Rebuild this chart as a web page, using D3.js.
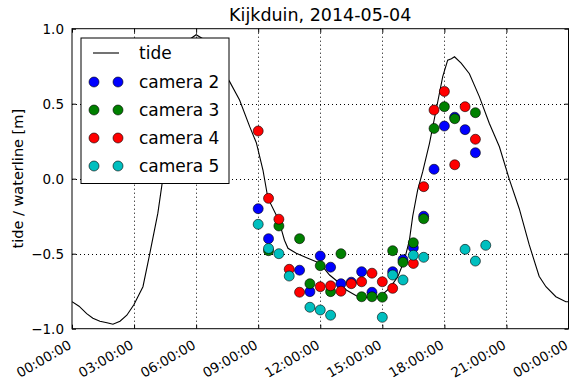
<!DOCTYPE html>
<html>
<head>
<meta charset="utf-8">
<script src="https://cdnjs.cloudflare.com/ajax/libs/d3/7.8.5/d3.min.js"></script>
<style>
body { margin: 0; background: #fff; }
svg { display: block; font-family: "DejaVu Sans", sans-serif; }
</style>
</head>
<body>
<div id="chart"></div>
<script>
// tide gauge, hours since midnight and level [m]
var tideHour = [0, 0.34, 0.71, 1.01, 1.35, 1.69, 1.98, 2.32, 2.65, 2.99, 3.43, 3.76, 4.15, 4.39, 4.6, 4.85,
  5.1, 5.45, 5.7, 6.0, 6.3, 6.65, 7.14, 7.62, 8.1, 8.59, 8.91, 9.23, 9.47, 9.99, 10.27, 10.44, 10.84,
  11.4, 11.81, 12.05, 12.45, 12.85, 13.26, 13.74, 14.22, 14.71, 15.02, 15.35, 15.75, 16.07, 16.31,
  16.47, 16.71, 16.95, 17.28, 17.6, 17.92, 18.16, 18.34, 18.49, 18.81, 19.21, 19.69, 20.17, 20.66,
  21.14, 21.62, 22.1, 22.58, 22.91, 23.39, 23.87, 24];
var tideLevel = [-0.82, -0.85, -0.90, -0.93, -0.95, -0.96, -0.97, -0.95, -0.91, -0.84, -0.72, -0.50, -0.23, 0.0, 0.22, 0.47,
  0.68, 0.85, 0.93, 0.96, 0.935, 0.86, 0.75, 0.647, 0.525, 0.347, 0.24, 0.058, -0.13, -0.275, -0.41, -0.464, -0.497,
  -0.53, -0.553, -0.575, -0.642, -0.687, -0.742, -0.78, -0.79, -0.79, -0.77, -0.73, -0.653, -0.542, -0.409,
  -0.25, -0.075, 0.045, 0.236, 0.458, 0.68, 0.79, 0.80, 0.813, 0.77, 0.70, 0.547, 0.37, 0.213,
  -0.005, -0.20, -0.44, -0.65, -0.72, -0.787, -0.82, -0.82];

// waterline per camera
var cam2Hour  = [9, 9.5, 11, 11.5, 12, 12.5, 13, 13.5, 14, 14.5, 15.5, 16, 16.5, 17, 17.5, 18, 18.5, 19, 19.5];
var cam2Level = [-0.20, -0.40, -0.61, -0.753, -0.515, -0.59, -0.70, -0.69, -0.62, -0.757, -0.62, -0.54, -0.46, -0.25, 0.063, 0.351, 0.41, 0.327, 0.173];
var cam3Hour  = [9.5, 10, 11, 11.5, 12, 12.5, 13, 14, 14.5, 15, 15.5, 16, 16.5, 17, 17.5, 18, 18.5, 19.5];
var cam3Level = [-0.48, -0.315, -0.40, -0.70, -0.58, -0.753, -0.50, -0.787, -0.787, -0.79, -0.48, -0.557, -0.427, -0.267, 0.335, 0.48, 0.40, 0.44];
var cam4Hour  = [9, 9.5, 10, 10.5, 11, 12, 12.5, 13, 13.5, 14, 14.5, 15, 15.5, 16.5, 17, 17.5, 18, 18.5, 19, 19.5];
var cam4Level = [0.318, -0.131, -0.27, -0.604, -0.757, -0.72, -0.714, -0.75, -0.70, -0.687, -0.63, -0.687, -0.731, -0.565, -0.053, 0.458, 0.582, 0.093, 0.48, 0.263];
var cam5Hour  = [9, 9.5, 10, 10.5, 11.5, 12, 12.5, 15, 15.5, 16, 16.5, 17, 19, 19.5, 20];
var cam5Level = [-0.304, -0.465, -0.50, -0.649, -0.857, -0.875, -0.91, -0.924, -0.642, -0.675, -0.51, -0.524, -0.471, -0.549, -0.444];

var seriesNames  = ["camera 2", "camera 3", "camera 4", "camera 5"];
var seriesColors = ["#0000ff", "#008000", "#ff0000", "#00bfbf"];
var yTicks = [-1, -0.5, 0, 0.5, 1];

var width = 569, height = 381,
    margin = {top: 28.7, right: 0.5, bottom: 52.3, left: 72};

var day = new Date(2014, 4, 4);
function toDate(h) { return new Date(day.getTime() + h * 3600e3); }

var x = d3.scaleTime().domain([day, toDate(24)]).range([margin.left, width - margin.right]);
var y = d3.scaleLinear().domain([-1, 1]).range([height - margin.bottom, margin.top]);
var xTicks = d3.timeHour.every(3).range(day, toDate(24.01));

var svg = d3.select("#chart").append("svg")
    .attr("width", width)
    .attr("height", height);

svg.append("defs").append("clipPath").attr("id", "plotclip")
  .append("rect")
    .attr("x", margin.left).attr("y", margin.top)
    .attr("width", width - margin.right - margin.left)
    .attr("height", height - margin.bottom - margin.top);

// dotted grid
var grid = svg.append("g").attr("stroke", "#000").attr("stroke-width", 1).attr("stroke-dasharray", "1,3");
grid.selectAll(".gx").data(xTicks.slice(1, -1)).enter().append("line")
    .attr("x1", function(d) { return Math.round(x(d)) + 0.5; })
    .attr("x2", function(d) { return Math.round(x(d)) + 0.5; })
    .attr("y1", margin.top).attr("y2", height - margin.bottom);
grid.selectAll(".gy").data(yTicks.slice(1, -1)).enter().append("line")
    .attr("y1", function(d) { return Math.round(y(d)) + 0.5; })
    .attr("y2", function(d) { return Math.round(y(d)) + 0.5; })
    .attr("x1", margin.left).attr("x2", width - margin.right);

var plot = svg.append("g").attr("clip-path", "url(#plotclip)");

var tideData = tideHour.map(function(h, i) { return [h, tideLevel[i]]; });
var line = d3.line()
    .x(function(d) { return x(toDate(d[0])); })
    .y(function(d) { return y(d[1]); });

plot.append("path")
    .datum(tideData)
    .attr("fill", "none")
    .attr("stroke", "#000")
    .attr("stroke-width", 1.1)
    .attr("d", line);

var camHours  = [cam2Hour, cam3Hour, cam4Hour, cam5Hour];
var camLevels = [cam2Level, cam3Level, cam4Level, cam5Level];

camHours.forEach(function(hours, k) {
  var pts = hours.map(function(h, i) { return [h, camLevels[k][i]]; });
  plot.append("g").selectAll("circle").data(pts).enter().append("circle")
      .attr("cx", function(d) { return x(toDate(d[0])); })
      .attr("cy", function(d) { return y(d[1]); })
      .attr("r", 5)
      .attr("fill", seriesColors[k])
      .attr("stroke", "#000")
      .attr("stroke-width", 0.6);
});

// axes, ticks pointing inwards
var fmtY = d3.format(".1f");
var xAxis = svg.append("g")
    .attr("transform", "translate(0," + (height - margin.bottom) + ")")
    .call(d3.axisBottom(x).tickValues(xTicks).tickSizeInner(-4).tickSizeOuter(0)
      .tickFormat(d3.timeFormat("%H:%M:%S")));
xAxis.selectAll("text")
    .attr("x", 0).attr("y", 0).attr("dy", null)
    .attr("text-anchor", "end")
    .attr("transform", "translate(0,19) rotate(-30)");

svg.append("g")
    .attr("transform", "translate(0," + margin.top + ")")
    .call(d3.axisTop(x).tickValues(xTicks).tickSizeInner(-4).tickSizeOuter(0).tickFormat(""));

svg.append("g")
    .attr("transform", "translate(" + margin.left + ",0)")
    .call(d3.axisLeft(y).tickValues(yTicks).tickSizeInner(-4).tickSizeOuter(0).tickPadding(8).tickFormat(fmtY));

svg.append("g")
    .attr("transform", "translate(" + (width - margin.right) + ",0)")
    .call(d3.axisRight(y).tickValues(yTicks).tickSizeInner(-4).tickSizeOuter(0).tickFormat(""));

svg.selectAll(".domain").remove();
svg.selectAll(".tick line").attr("stroke", "#000");
svg.selectAll(".tick text")
    .attr("fill", "#000")
    .style("font-size", "13.5px")
    .style("font-family", "DejaVu Sans, sans-serif");

svg.append("rect")
    .attr("x", margin.left).attr("y", margin.top)
    .attr("width", width - margin.right - margin.left)
    .attr("height", height - margin.bottom - margin.top)
    .attr("fill", "none")
    .attr("stroke", "#000")
    .attr("stroke-width", 1);

// title and axis label
svg.append("text")
    .attr("x", (margin.left + width - margin.right) / 2)
    .attr("y", 21)
    .attr("text-anchor", "middle")
    .style("font-size", "17.5px")
    .text("Kijkduin, 2014-05-04");

svg.append("text")
    .attr("transform", "translate(18," + (margin.top + height - margin.bottom) / 2 + ") rotate(-90)")
    .attr("text-anchor", "middle")
    .attr("dominant-baseline", "central")
    .style("font-size", "14.5px")
    .text("tide / waterline [m]");

// legend
var legend = svg.append("g").attr("transform", "translate(81,38)");
legend.append("rect")
    .attr("width", 148).attr("height", 145.5)
    .attr("fill", "#fff").attr("stroke", "#000").attr("stroke-width", 1);

legend.append("line")
    .attr("x1", 12).attr("x2", 38).attr("y1", 15).attr("y2", 15)
    .attr("stroke", "#000").attr("stroke-width", 1.1);
legend.append("text")
    .attr("x", 58).attr("y", 15)
    .attr("dominant-baseline", "central")
    .style("font-size", "17px")
    .text("tide");

seriesNames.forEach(function(name, k) {
  var yy = 44 + k * 28;
  [13, 37].forEach(function(xx) {
    legend.append("circle")
        .attr("cx", xx).attr("cy", yy).attr("r", 5)
        .attr("fill", seriesColors[k]).attr("stroke", "#000").attr("stroke-width", 0.6);
  });
  legend.append("text")
      .attr("x", 58).attr("y", yy)
      .attr("dominant-baseline", "central")
      .style("font-size", "17px")
      .text(name);
});
</script>
</body>
</html>
